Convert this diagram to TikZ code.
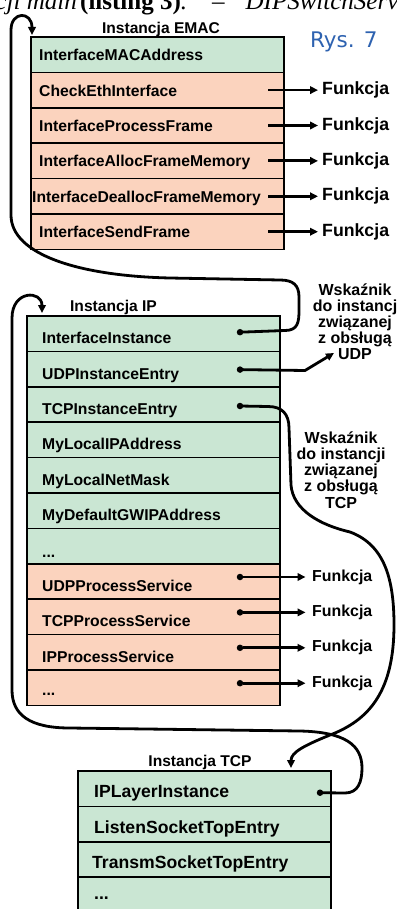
\documentclass[tikz,border=0pt]{standalone}
\usepackage{fontspec}
\setmainfont{Liberation Sans}
\newfontfamily\serifx{Liberation Serif}
\newfontfamily\rysfont{DejaVu Sans}
\usetikzlibrary{arrows.meta,calc}
\definecolor{rowgreen}{RGB}{202,230,211}
\definecolor{rowpink}{RGB}{251,211,190}
\definecolor{rysblue}{RGB}{46,98,176}
\begin{document}
\begin{tikzpicture}[x=1pt,y=-1pt,
  cell/.style={draw=black, line width=1.7pt, minimum width=253pt, minimum height=35.4pt, inner sep=0pt, outer sep=0pt, anchor=north west},
  gcell/.style={cell, fill=rowgreen},
  pcell/.style={cell, fill=rowpink},
  lbl/.style={font=\fontsize{15.7}{18}\selectfont\bfseries, anchor=base west, inner sep=0pt},
  lblbig/.style={font=\fontsize{17.6}{20}\selectfont\bfseries, anchor=base west, inner sep=0pt},
  ttl/.style={font=\fontsize{15.6}{18}\selectfont\bfseries, anchor=base, inner sep=0pt},
  fn/.style={font=\fontsize{17.7}{20}\selectfont\bfseries, anchor=west, inner sep=0pt},
  fnsmall/.style={font=\fontsize{15.9}{18}\selectfont\bfseries, anchor=west, inner sep=0pt},
  wsk/.style={font=\fontsize{16}{15.9}\selectfont\bfseries, align=center, inner sep=0pt},
  conn/.style={line width=2.8pt, line join=round},
  arr/.style={conn, -{Triangle[length=8pt,width=7.5pt]}},
  pdot/.style={circle, fill=black, inner sep=0pt, minimum size=6.5pt},
  topfont/.style={font=\serifx\fontsize{25}{28}\selectfont, inner sep=0pt}
]
\useasboundingbox (0,0) rectangle (396,909);
\clip (0,0) rectangle (396,909);

% clipped running text at the top
\node[topfont, anchor=base east] (topl) at (77,9.5) {\itshape funkcji main};
\node[topfont, anchor=base west] (topr) at (80,9.5) {\bfseries (listing 3)\mdseries\itshape.\hspace{25pt}\upshape–\hspace{21pt}\itshape DIPSwitchService};

% ---------------- EMAC instance ----------------
\node[ttl] (temac) at (161,33.5) {Instancja EMAC};
\node[font=\rysfont\fontsize{21.5}{24}\selectfont, text=rysblue, anchor=base west, inner sep=0pt] (rys) at (310,47.5) {Rys. 7};

\node[gcell] (e1) at (31,37) {};
\node[pcell] (e2) at (e1.south west) {};
\node[pcell] (e3) at (e2.south west) {};
\node[pcell] (e4) at (e3.south west) {};
\node[pcell] (e5) at (e4.south west) {};
\node[pcell] (e6) at (e5.south west) {};

\node[lbl] (e1t) at ($(e1.west)+(8,6)$) {InterfaceMACAddress};
\node[lbl] (e2t) at ($(e2.west)+(8,6)$) {CheckEthInterface};
\node[lbl] (e3t) at ($(e3.west)+(8,6)$) {InterfaceProcessFrame};
\node[lbl] (e4t) at ($(e4.west)+(8,6)$) {InterfaceAllocFrameMemory};
\node[lbl] (e5t) at ($(e5.west)+(1,6)$) {InterfaceDeallocFrameMemory};
\node[lbl] (e6t) at ($(e6.west)+(8,6)$) {InterfaceSendFrame};

\foreach \r in {2,...,6}{
  \node[fn] (f\r) at ($(e\r.west)+(291,0)$) {Funkcja};
  \coordinate (a\r) at ($(e\r.west)+(237,0)$);
  \draw[arr, shorten >=4pt] (a\r) -- (f\r);
}

% ---------------- IP instance ----------------
\node[ttl] (tip) at (113.5,311) {Instancja IP};

\node[gcell] (i1) at (27,316) {};
\node[gcell] (i2) at (i1.south west) {};
\node[gcell] (i3) at (i2.south west) {};
\node[gcell] (i4) at (i3.south west) {};
\node[gcell] (i5) at (i4.south west) {};
\node[gcell] (i6) at (i5.south west) {};
\node[gcell] (i7) at (i6.south west) {};
\node[pcell] (i8) at (i7.south west) {};
\node[pcell] (i9) at (i8.south west) {};
\node[pcell] (i10) at (i9.south west) {};
\node[pcell] (i11) at (i10.south west) {};

\node[lbl] (i1t) at ($(i1.west)+(15,10)$) {InterfaceInstance};
\node[lbl] (i2t) at ($(i2.west)+(15,10)$) {UDPInstanceEntry};
\node[lbl] (i3t) at ($(i3.west)+(15,10)$) {TCPInstanceEntry};
\node[lbl] (i4t) at ($(i4.west)+(15,10)$) {MyLocalIPAddress};
\node[lbl] (i5t) at ($(i5.west)+(15,10)$) {MyLocalNetMask};
\node[lbl] (i6t) at ($(i6.west)+(15,10)$) {MyDefaultGWIPAddress};
\node[lbl] (i7t) at ($(i7.west)+(15,11)$) {...};
\node[lbl] (i8t) at ($(i8.west)+(15,10)$) {UDPProcessService};
\node[lbl] (i9t) at ($(i9.west)+(15,10)$) {TCPProcessService};
\node[lbl] (i10t) at ($(i10.west)+(15,10)$) {IPProcessService};
\node[lbl] (i11t) at ($(i11.west)+(15,8)$) {...};

\node[pdot] (d1) at ($(i1.west)+(213,-1.5)$) {};
\node[pdot] (d2) at ($(i2.west)+(213,0.5)$) {};
\node[pdot] (d3) at ($(i3.west)+(213,1.5)$) {};

\foreach \r in {8,...,11}{
  \node[pdot] (d\r) at ($(i\r.west)+(213,-4.5)$) {};
  \node[fnsmall] (g\r) at ($(i\r.west)+(285,-4.5)$) {Funkcja};
  \draw[arr, shorten >=6.5pt] (d\r) -- (g\r);
}

\node[wsk] (wudp) at (355,322) {Wskaźnik\\do instancj\\związanej\\z obsługą\\UDP};
\node[wsk, font=\fontsize{16}{16.2}\selectfont\bfseries] (wtcp) at (341,470) {Wskaźnik\\do instancji\\związanej\\z obsługą\\TCP};

% ---------------- TCP instance ----------------
\node[ttl] (ttcp) at (200,766) {Instancja TCP};

\node[gcell] (t1) at (78,771) {};
\node[gcell] (t2) at (t1.south west) {};
\node[gcell] (t3) at (t2.south west) {};
\node[gcell] (t4) at (t3.south west) {};

\node[lblbig] (t1t) at ($(t1.west)+(16,9)$) {IPLayerInstance};
\node[lblbig] (t2t) at ($(t2.west)+(16,9)$) {ListenSocketTopEntry};
\node[lblbig] (t3t) at ($(t3.west)+(14,9)$) {TransmSocketTopEntry};
\node[lblbig] (t4t) at ($(t4.west)+(16,5)$) {...};

\node[pdot] (dt) at ($(t1.west)+(242,4)$) {};

% ---------------- pointer connectors ----------------
\coordinate (emacin) at ($(e1.north west)+(1,-2)$);
\draw[arr] (d1.center) -- (285,330.5)
  .. controls (298,330.5) and (299,322) .. (299,310) -- (299,297)
  .. controls (299,285) and (293,280) .. (280,280) -- (170,278)
  .. controls (80,276) and (11,255) .. (11,215) -- (11,30)
  .. controls (11,11) and (32,11) .. (emacin);

\coordinate (ubend) at (305,370.5);
\coordinate (utip) at (334,353);
\draw[arr] (d2.center) -- (ubend) -- (utip);

\coordinate (tcpin) at ($(t1.north west)+(213,-3)$);
\draw[arr] (d3.center) -- (268,406.5)
  .. controls (282,406.5) and (289,414) .. (289,428) -- (291,485)
  .. controls (293,510) and (320,525) .. (350,532)
  .. controls (385,545) and (394,580) .. (394,625)
  .. controls (394,690) and (370,718) .. (335,733)
  .. controls (305,745) and (291,752) .. (tcpin);

\coordinate (ipin) at ($(i1.north west)+(15,-3)$);
\draw[arr] (dt.center) -- (345,793)
  .. controls (358,793) and (362,782) .. (362,768)
  .. controls (362,745) and (345,732) .. (300,731) -- (70,728)
  .. controls (30,728) and (12,715) .. (12,690) -- (12,318)
  .. controls (12,290) and (42,290) .. (ipin);
\end{tikzpicture}
\end{document}
